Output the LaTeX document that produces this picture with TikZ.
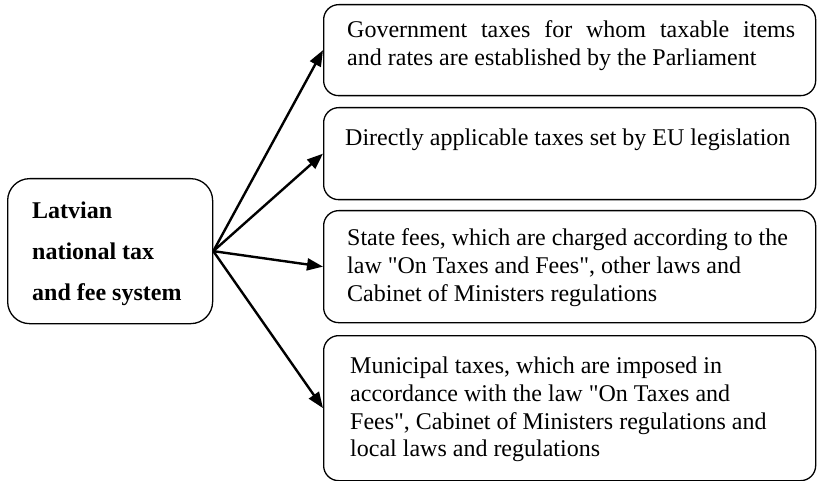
\documentclass[tikz,border=0pt]{standalone}
\usepackage{fontspec}
\setmainfont{Liberation Serif}[Ligatures=TeXOff]
\usetikzlibrary{arrows.meta}

\begin{document}
\begin{tikzpicture}[x=1pt, y=-1pt,
  panel/.style={draw, line width=1.3pt, rounded corners=15pt, inner sep=0pt,
                anchor=north west, minimum width=492pt},
  label/.style={anchor=north west, inner sep=0pt, align=left,
                font=\fontsize{24}{27.8}\selectfont},
  link/.style={line width=2.4pt, -{Triangle[length=16pt,width=12pt]}}]
\useasboundingbox (0,0) rectangle (817,481);

% source box on the left
\node[panel, minimum width=205pt, minimum height=145pt, rounded corners=22pt] (src) at (7,178) {};
\node[label, font=\fontsize{24}{41}\selectfont\bfseries] (srctext) at (32,201.6)
  {Latvian\\national tax\\and fee system};

% the four categories on the right
\node[panel, minimum height=91pt]  (b1) at (323,4) {};
\node[panel, minimum height=92pt]  (b2) at (323,107) {};
\node[panel, minimum height=112pt] (b3) at (323,210) {};
\node[panel, minimum height=145pt] (b4) at (323,335) {};

\node[label] (t1) at (347,20.6)
  {\makebox[448pt][s]{Government taxes for whom taxable items}\\
   and rates are established by the Parliament};
\node[label] (t2) at (345,128.6)
  {Directly applicable taxes set by EU legislation};
\node[label] (t3) at (347,228.6)
  {State fees, which are charged according to the\\
   law "On Taxes and Fees", other laws and\\
   Cabinet of Ministers regulations};
\node[label] (t4) at (350,356.6)
  {Municipal taxes, which are imposed in\\
   accordance with the law "On Taxes and\\
   Fees", Cabinet of Ministers regulations and\\
   local laws and regulations};

% connectors
\foreach \target in {b1,b2,b3,b4}
  \draw[link] (src.east) -- (\target.west);
\end{tikzpicture}
\end{document}
